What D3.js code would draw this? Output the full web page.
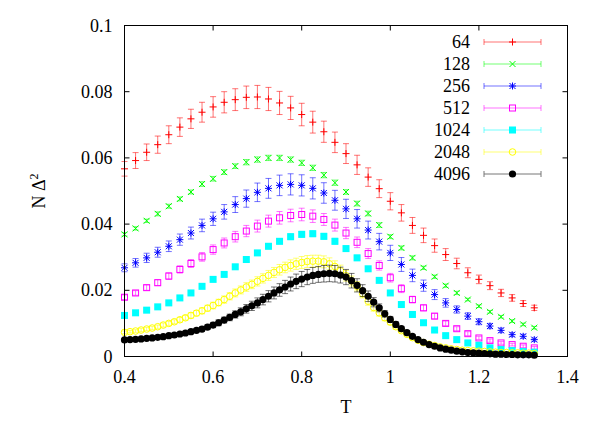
<!DOCTYPE html>
<html>
<head>
<script src="https://d3js.org/d3.v7.min.js"></script>
<style>
  body { margin: 0; background: #fff; }
</style>
</head>
<body>
<script>
// T grids
var tCoarse = [0.4,0.425,0.45,0.475,0.5,0.525,0.55,0.575,0.6,0.625,0.65,0.675,0.7,0.725,0.75,0.775,0.8,0.825,0.85,0.875,0.9,0.925,0.95,0.975,1.0,1.025,1.05,1.075,1.1,1.125,1.15,1.175,1.2,1.225,1.25,1.275,1.3,1.325];
var tFine = [];
for (var k = 0; k < 75; k++) tFine.push(+(0.4 + k * 0.0125).toFixed(4));

var v64 = [.0567,.0592,.0617,.0640,.0670,.0693,.0718,.0738,.0754,.0768,.0776,.0783,.0784,.0778,.0766,.0751,.0731,.0708,.0679,.0647,.0613,.0579,.0542,.0507,.0469,.0434,.0396,.0366,.0335,.0308,.0281,.0253,.0233,.0214,.0192,.0177,.0160,.0147];
var e64 = [.0022,.0024,.0025,.0026,.0027,.0028,.0029,.0030,.0031,.0032,.0033,.0034,.0035,.0035,.0035,.0035,.0034,.0033,.0032,.0031,.0030,.0029,.0028,.0027,.0026,.0025,.0024,.0022,.0020,.0018,.0016,.0015,.0013,.0012,.0011,.0010,.0009,.0008];
var v128 = [.0369,.0387,.0410,.0431,.0454,.0476,.0497,.0521,.0537,.0557,.0575,.0587,.0595,.0600,.0600,.0595,.0585,.0570,.0548,.0525,.0497,.0462,.0432,.0397,.0362,.0328,.0298,.0268,.0241,.0214,.0192,.0172,.0152,.0135,.0120,.0107,.0097,.0087];
var e128 = [.0005,.0005,.0005,.0006,.0006,.0006,.0006,.0007,.0007,.0007,.0007,.0008,.0008,.0008,.0008,.0008,.0008,.0008,.0008,.0008,.0007,.0007,.0007,.0007,.0006,.0006,.0006,.0005,.0005,.0005,.0005,.0004,.0004,.0004,.0004,.0004,.0004,.0004];
var v256 = [.0268,.0283,.0298,.0315,.0333,.0353,.0373,.0396,.0416,.0437,.0459,.0477,.0496,.0508,.0517,.0520,.0517,.0508,.0494,.0472,.0446,.0416,.0382,.0347,.0313,.0278,.0245,.0214,.0187,.0162,.0142,.0122,.0105,.0092,.0079,.0066,.0061,.0051];
var e256 = [.0012,.0013,.0014,.0015,.0016,.0017,.0018,.0019,.0020,.0022,.0024,.0026,.0028,.0030,.0031,.0032,.0032,.0032,.0031,.0030,.0029,.0028,.0027,.0025,.0023,.0021,.0019,.0017,.0015,.0013,.0011,.0010,.0009,.0008,.0007,.0006,.0006,.0005];
var v512 = [.0179,.0192,.0208,.0223,.0243,.0263,.0281,.0301,.0323,.0343,.0362,.0379,.0394,.0409,.0419,.0426,.0429,.0424,.0414,.0397,.0373,.0345,.0311,.0275,.0238,.0205,.0172,.0147,.0122,.0100,.0084,.0069,.0056,.0048,.0041,.0036,.0031,.0026];
var e512 = [.0007,.0007,.0008,.0009,.0010,.0011,.0012,.0013,.0014,.0015,.0016,.0017,.0018,.0018,.0019,.0019,.0019,.0019,.0018,.0018,.0017,.0016,.0015,.0014,.0013,.0012,.0010,.0009,.0008,.0007,.0006,.0006,.0005,.0005,.0004,.0004,.0004,.0004];
var v1024 = [.0124,.0132,.0140,.0150,.0162,.0177,.0192,.0212,.0233,.0248,.0271,.0293,.0313,.0333,.0348,.0362,.0369,.0371,.0363,.0348,.0326,.0298,.0265,.0230,.0192,.0157,.0127,.0102,.0080,.0063,.0051,.0041,.0034,.0026,.0021,.0018,.0015,.0013];
var e1024 = [.0003,.0003,.0003,.0004,.0004,.0004,.0005,.0005,.0005,.0006,.0006,.0007,.0007,.0008,.0008,.0009,.0009,.0009,.0009,.0009,.0008,.0008,.0007,.0007,.0006,.0005,.0005,.0004,.0004,.0003,.0003,.0003,.0003,.0002,.0002,.0002,.0002,.0002];
var v2048 = [.0073,.0075,.0077,.0080,.0083,.0086,.0090,.0095,.0100,.0105,.0111,.0117,.0124,.0131,.0138,.0146,.0154,.0163,.0172,.0182,.0192,.0201,.0210,.0218,.0227,.0236,.0245,.0254,.0262,.0269,.0275,.0280,.0284,.0287,.0288,.0288,.0286,.0280,.0272,.0259,.0244,.0228,.0212,.0190,.0167,.0148,.0132,.0117,.0104,.0090,.0078,.0067,.0057,.0049,.0042,.0037,.0033,.0029,.0026,.0023,.0021,.0019,.0018,.0017,.0016,.0015,.0014,.0013,.0012,.0012,.0011,.0011,.0010,.0010,.0009];
var e2048 = [.0004,.0004,.0004,.0005,.0005,.0005,.0005,.0006,.0006,.0006,.0007,.0007,.0008,.0008,.0009,.0009,.0010,.0010,.0011,.0011,.0012,.0012,.0013,.0013,.0014,.0014,.0015,.0015,.0016,.0016,.0017,.0017,.0018,.0018,.0018,.0018,.0018,.0018,.0017,.0017,.0016,.0015,.0014,.0013,.0012,.0011,.0010,.0009,.0008,.0007,.0006,.0006,.0005,.0005,.0004,.0004,.0004,.0003,.0003,.0003,.0003,.0003,.0003,.0002,.0002,.0002,.0002,.0002,.0002,.0002,.0002,.0002,.0002,.0002,.0002];
var v4096 = [.0050,.0051,.0052,.0053,.0055,.0056,.0058,.0060,.0063,.0065,.0068,.0071,.0075,.0079,.0083,.0089,.0095,.0102,.0110,.0118,.0127,.0135,.0144,.0153,.0162,.0172,.0182,.0192,.0201,.0210,.0219,.0227,.0234,.0240,.0245,.0248,.0250,.0251,.0250,.0246,.0240,.0229,.0215,.0199,.0182,.0164,.0147,.0129,.0112,.0097,.0084,.0072,.0061,.0051,.0043,.0036,.0031,.0026,.0022,.0019,.0016,.0014,.0012,.0011,.0010,.0009,.0008,.0007,.0007,.0006,.0006,.0005,.0005,.0005,.0004];
var e4096 = [.0003,.0003,.0003,.0003,.0003,.0004,.0004,.0004,.0004,.0005,.0005,.0005,.0006,.0006,.0007,.0007,.0008,.0009,.0009,.0010,.0011,.0012,.0013,.0014,.0015,.0016,.0017,.0018,.0019,.0020,.0021,.0022,.0023,.0023,.0024,.0024,.0025,.0025,.0025,.0024,.0023,.0022,.0020,.0018,.0016,.0014,.0012,.0010,.0009,.0008,.0007,.0006,.0005,.0004,.0004,.0003,.0003,.0003,.0002,.0002,.0002,.0002,.0002,.0002,.0002,.0002,.0002,.0002,.0002,.0002,.0002,.0002,.0002,.0002,.0002];

var seriesNames = ["64","128","256","512","1024","2048","4096"];
var seriesColors = ["#ff0000","#00ff00","#0000ff","#ff00ff","#00ffff","#ffff00","#000000"];
var seriesMarkers = ["plus","cross","star","openSquare","filledSquare","openCircle","filledCircle"];
var xTicks = [0.4,0.6,0.8,1,1.2,1.4];
var yTicks = [0,0.02,0.04,0.06,0.08,0.1];

var series = [
  {t: tCoarse, v: v64, e: e64}, {t: tCoarse, v: v128, e: e128}, {t: tCoarse, v: v256, e: e256},
  {t: tCoarse, v: v512, e: e512}, {t: tCoarse, v: v1024, e: e1024},
  {t: tFine, v: v2048, e: e2048}, {t: tFine, v: v4096, e: e4096}
];

var w = 605, h = 424;
var m = {left: 124.5, right: 37.5, top: 25.5, bottom: 67.5};
var svg = d3.select("body").append("svg").attr("width", w).attr("height", h)
  .attr("font-family", "'Liberation Serif', 'Times New Roman', 'DejaVu Serif', serif");

var x = d3.scaleLinear().domain([0.4, 1.4]).range([m.left, w - m.right]);
var y = d3.scaleLinear().domain([0, 0.1]).range([h - m.bottom, m.top]);

function marker(g, type, cx, cy, col) {
  var s = 3.5;
  if (type == "plus") {
    g.append("path").attr("d", "M"+(cx-s)+","+cy+"H"+(cx+s)+"M"+cx+","+(cy-s)+"V"+(cy+s)).attr("stroke", col).attr("stroke-width", 1);
  } else if (type == "cross") {
    g.append("path").attr("d", "M"+(cx-3)+","+(cy-3)+"L"+(cx+3)+","+(cy+3)+"M"+(cx-3)+","+(cy+3)+"L"+(cx+3)+","+(cy-3)).attr("stroke", col).attr("stroke-width", 1);
  } else if (type == "star") {
    g.append("path").attr("d", "M"+(cx-3)+","+(cy-3)+"L"+(cx+3)+","+(cy+3)+"M"+(cx-3)+","+(cy+3)+"L"+(cx+3)+","+(cy-3)+"M"+(cx-s)+","+cy+"H"+(cx+s)+"M"+cx+","+(cy-s)+"V"+(cy+s)).attr("stroke", col).attr("stroke-width", 1);
  } else if (type == "openSquare") {
    g.append("rect").attr("x", cx-3).attr("y", cy-3).attr("width", 6).attr("height", 6).attr("fill", "none").attr("stroke", col);
  } else if (type == "filledSquare") {
    g.append("rect").attr("x", cx-3.5).attr("y", cy-3.5).attr("width", 7).attr("height", 7).attr("fill", col);
  } else if (type == "openCircle") {
    g.append("circle").attr("cx", cx).attr("cy", cy).attr("r", 3.3).attr("fill", "none").attr("stroke", col);
  } else {
    g.append("circle").attr("cx", cx).attr("cy", cy).attr("r", 3.6).attr("fill", col);
  }
}

series.forEach(function(s, i) {
  var g = svg.append("g");
  var col = seriesColors[i];
  var eb = g.append("g").attr("stroke", col).attr("stroke-opacity", 0.55).attr("stroke-width", 1);
  s.t.forEach(function(t, j) {
    var cx = x(t), y1 = y(s.v[j] - s.e[j]), y2 = y(s.v[j] + s.e[j]);
    eb.append("path").attr("d", "M"+cx+","+y1+"V"+y2+"M"+(cx-3)+","+y1+"H"+(cx+3)+"M"+(cx-3)+","+y2+"H"+(cx+3));
  });
  s.t.forEach(function(t, j) { marker(g, seriesMarkers[i], x(t), y(s.v[j]), col); });
});

// frame
svg.append("rect").attr("x", m.left).attr("y", m.top).attr("width", w - m.left - m.right)
  .attr("height", h - m.top - m.bottom).attr("fill", "none").attr("stroke", "#000");

var fs = "18px";
var xa = svg.append("g");
xTicks.forEach(function(t) {
  xa.append("path").attr("d", "M"+x(t)+","+y(0)+"v-5M"+x(t)+","+y(0.1)+"v5").attr("stroke", "#000");
  xa.append("text").attr("x", x(t)).attr("y", y(0) + 26).attr("text-anchor", "middle").style("font-size", fs).text(t);
});
var ya = svg.append("g");
yTicks.forEach(function(t) {
  ya.append("path").attr("d", "M"+x(0.4)+","+y(t)+"h5M"+x(1.4)+","+y(t)+"h-5").attr("stroke", "#000");
  ya.append("text").attr("x", x(0.4) - 12).attr("y", y(t) + 6).attr("text-anchor", "end").style("font-size", fs).text(t);
});

svg.append("text").attr("x", x(0.9)).attr("y", 413).attr("text-anchor", "middle").style("font-size", fs).text("T");
svg.append("text").attr("transform", "translate(45," + y(0.05) + ") rotate(-90)").attr("text-anchor", "middle")
  .style("font-size", fs).html("N &#916;<tspan dy='-7' font-size='12px'>2</tspan>");

// legend
var lg = svg.append("g");
seriesNames.forEach(function(n, i) {
  var ly = 42 + i * 22;
  var col = seriesColors[i];
  lg.append("text").attr("x", 470).attr("y", ly + 6).attr("text-anchor", "end").style("font-size", fs).text(n);
  var lc = (i == 6) ? "#777" : col;
  lg.append("path").attr("d", "M484,"+ly+"H541M484,"+(ly-3)+"v6M541,"+(ly-3)+"v6")
    .attr("stroke", lc).attr("stroke-opacity", i == 6 ? 1 : 0.55);
  marker(lg, seriesMarkers[i], 512.5, ly, col);
});
</script>
</body>
</html>
